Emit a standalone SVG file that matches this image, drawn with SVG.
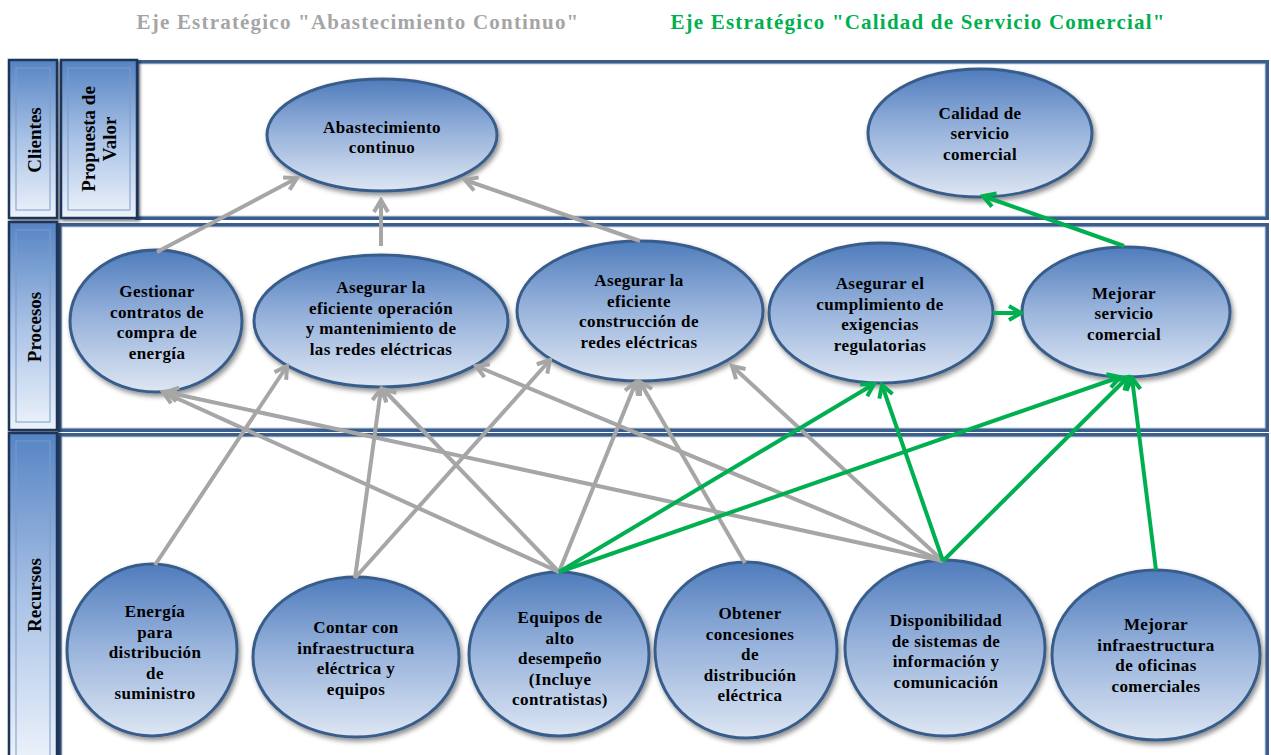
<svg xmlns="http://www.w3.org/2000/svg" width="1271" height="755" viewBox="0 0 1271 755">
  <defs>
    <linearGradient id="gNode" x1="0" y1="0" x2="0" y2="1">
      <stop offset="0" stop-color="#4f7cbc"/>
      <stop offset="0.45" stop-color="#94b0da"/>
      <stop offset="1" stop-color="#dde6f3"/>
    </linearGradient>
    <linearGradient id="gLabel" x1="0" y1="0" x2="0" y2="1">
      <stop offset="0" stop-color="#5584c4"/>
      <stop offset="0.5" stop-color="#a9c2e6"/>
      <stop offset="1" stop-color="#edf3fb"/>
    </linearGradient>
    <filter id="shadow" x="-10%" y="-10%" width="125%" height="130%">
      <feDropShadow dx="2" dy="3" stdDeviation="2.5" flood-color="#000" flood-opacity="0.45"/>
    </filter>
    <filter id="labelShadow" x="-10%" y="-5%" width="130%" height="112%">
      <feDropShadow dx="2" dy="2" stdDeviation="1.5" flood-color="#000" flood-opacity="0.5"/>
    </filter>
    <marker id="arrGray" viewBox="0 0 18 18" refX="15" refY="9" markerWidth="18" markerHeight="18" markerUnits="userSpaceOnUse" orient="auto">
      <path d="M3,2 L15,9 L3,16" fill="none" stroke="#a6a6a6" stroke-width="4" stroke-linejoin="miter"/>
    </marker>
    <marker id="arrGreen" viewBox="0 0 18 18" refX="15" refY="9" markerWidth="18" markerHeight="18" markerUnits="userSpaceOnUse" orient="auto">
      <path d="M3,2 L15,9 L3,16" fill="none" stroke="#00b050" stroke-width="4" stroke-linejoin="miter"/>
    </marker>
    <style>
      .title { font-family: "Liberation Serif", "Times New Roman", serif; font-weight: bold; font-size: 21px; letter-spacing: 1.2px; text-anchor: middle; }
      .frame { fill: #ffffff; stroke: #3b5d8b; stroke-width: 4; }
      .frameIn { fill: none; stroke: #c3d1e5; stroke-width: 1; }
      .lbl { fill: url(#gLabel); stroke: #1f3658; stroke-width: 2.5; filter: url(#labelShadow); }
      .lblIn { fill: none; stroke: #7d9bc8; stroke-width: 1; }
      .lblText { font-family: "Liberation Serif", "Times New Roman", serif; font-weight: bold; font-size: 19px; fill: #000; text-anchor: middle; dominant-baseline: central; }
      .node ellipse { fill: url(#gNode); stroke: #385d8a; stroke-width: 3; filter: url(#shadow); }
      .node text { font-family: "Liberation Serif", "Times New Roman", serif; font-weight: bold; font-size: 17px; letter-spacing: 0.4px; fill: #000; text-anchor: middle; }
      .gray { stroke: #a6a6a6; stroke-width: 4; fill: none; marker-end: url(#arrGray); }
      .green { stroke: #00b050; stroke-width: 4; fill: none; marker-end: url(#arrGreen); }
    </style>
  </defs>

  <rect width="1271" height="755" fill="#ffffff"/>

  <!-- strategic axis headings -->
  <text class="title" x="358" y="29" fill="#a5a5a5">Eje Estratégico "Abastecimiento Continuo"</text>
  <text class="title" x="918" y="29" fill="#00b050">Eje Estratégico "Calidad de Servicio Comercial"</text>

  <!-- lane frames -->
  <g id="lanes">
    <rect class="frame" x="137" y="62" width="1130" height="156"/>
    <rect class="frameIn" x="139" y="64" width="1126" height="152"/>
    <rect class="frame" x="60" y="225" width="1207" height="205"/>
    <rect class="frameIn" x="62" y="227" width="1203" height="201"/>
    <rect class="frame" x="60" y="435" width="1207" height="330"/>
    <rect class="frameIn" x="62" y="437" width="1203" height="326"/>
  </g>

  <!-- lane headers -->
  <g id="lane-clientes">
    <rect class="lbl" x="9" y="60" width="48" height="158"/>
    <rect class="lblIn" x="16" y="68" width="34" height="142"/>
    <text class="lblText" transform="translate(34,140) rotate(-90)">Clientes</text>
  </g>
  <g id="lane-propuesta">
    <rect class="lbl" x="61" y="60" width="76" height="158"/>
    <rect class="lblIn" x="68" y="68" width="62" height="142"/>
    <text class="lblText" transform="translate(88,139) rotate(-90)">Propuesta de</text>
    <text class="lblText" transform="translate(109,139) rotate(-90)">Valor</text>
  </g>
  <g id="lane-procesos">
    <rect class="lbl" x="9" y="222" width="48" height="208"/>
    <rect class="lblIn" x="16" y="230" width="34" height="192"/>
    <text class="lblText" transform="translate(34,327) rotate(-90)">Procesos</text>
  </g>
  <g id="lane-recursos">
    <rect class="lbl" x="9" y="433" width="48" height="330"/>
    <rect class="lblIn" x="16" y="441" width="34" height="330"/>
    <text class="lblText" transform="translate(34,595) rotate(-90)">Recursos</text>
  </g>

  <!-- objectives -->
  <g id="abastecimiento" class="node">
    <ellipse cx="382" cy="135" rx="115" ry="56"/>
    <text x="382"><tspan x="382" y="133">Abastecimiento</tspan><tspan x="382" y="153">continuo</tspan></text>
  </g>
  <g id="calidad" class="node">
    <ellipse cx="980" cy="133" rx="112" ry="64"/>
    <text><tspan x="980" y="118.5">Calidad de</tspan><tspan x="980" y="139">servicio</tspan><tspan x="980" y="159.5">comercial</tspan></text>
  </g>
  <g id="gestionar" class="node">
    <ellipse cx="156" cy="321" rx="86" ry="71"/>
    <text><tspan x="157" y="297">Gestionar</tspan><tspan x="157" y="318">contratos de</tspan><tspan x="157" y="338">compra de</tspan><tspan x="157" y="359">energía</tspan></text>
  </g>
  <g id="operacion" class="node">
    <ellipse cx="381" cy="321" rx="127" ry="66"/>
    <text><tspan x="381" y="293">Asegurar la</tspan><tspan x="381" y="314">eficiente operación</tspan><tspan x="381" y="334">y mantenimiento de</tspan><tspan x="381" y="355">las redes eléctricas</tspan></text>
  </g>
  <g id="construccion" class="node">
    <ellipse cx="640" cy="311" rx="123" ry="70"/>
    <text><tspan x="639" y="286">Asegurar la</tspan><tspan x="639" y="307">eficiente</tspan><tspan x="639" y="327">construcción de</tspan><tspan x="639" y="348">redes eléctricas</tspan></text>
  </g>
  <g id="cumplimiento" class="node">
    <ellipse cx="881" cy="313" rx="112" ry="70"/>
    <text><tspan x="880" y="289">Asegurar el</tspan><tspan x="880" y="310">cumplimiento de</tspan><tspan x="880" y="330">exigencias</tspan><tspan x="880" y="351">regulatorias</tspan></text>
  </g>
  <g id="servicio" class="node">
    <ellipse cx="1126" cy="312" rx="104" ry="65"/>
    <text><tspan x="1124" y="298.5">Mejorar</tspan><tspan x="1124" y="319">servicio</tspan><tspan x="1124" y="339.5">comercial</tspan></text>
  </g>
  <g id="energia" class="node">
    <ellipse cx="152" cy="650" rx="85" ry="86"/>
    <text><tspan x="155" y="617">Energía</tspan><tspan x="155" y="637.5">para</tspan><tspan x="155" y="658">distribución</tspan><tspan x="155" y="678.5">de</tspan><tspan x="155" y="699">suministro</tspan></text>
  </g>
  <g id="infraestructura" class="node">
    <ellipse cx="356" cy="657" rx="103" ry="80"/>
    <text><tspan x="356" y="633">Contar con</tspan><tspan x="356" y="654">infraestructura</tspan><tspan x="356" y="674">eléctrica y</tspan><tspan x="356" y="695">equipos</tspan></text>
  </g>
  <g id="equipos" class="node">
    <ellipse cx="559" cy="654" rx="90" ry="82"/>
    <text><tspan x="560" y="623">Equipos de</tspan><tspan x="560" y="643.5">alto</tspan><tspan x="560" y="664">desempeño</tspan><tspan x="560" y="684.5">(Incluye</tspan><tspan x="560" y="705">contratistas)</tspan></text>
  </g>
  <g id="concesiones" class="node">
    <ellipse cx="746" cy="650" rx="91" ry="88"/>
    <text><tspan x="750" y="619">Obtener</tspan><tspan x="750" y="639.5">concesiones</tspan><tspan x="750" y="660">de</tspan><tspan x="750" y="680.5">distribución</tspan><tspan x="750" y="701">eléctrica</tspan></text>
  </g>
  <g id="sistemas" class="node">
    <ellipse cx="945" cy="648" rx="100" ry="88"/>
    <text><tspan x="946" y="626">Disponibilidad</tspan><tspan x="946" y="647">de sistemas de</tspan><tspan x="946" y="667">información y</tspan><tspan x="946" y="688">comunicación</tspan></text>
  </g>
  <g id="oficinas" class="node">
    <ellipse cx="1156" cy="655" rx="104" ry="85"/>
    <text><tspan x="1156" y="630">Mejorar</tspan><tspan x="1156" y="651">infraestructura</tspan><tspan x="1156" y="671">de oficinas</tspan><tspan x="1156" y="692">comerciales</tspan></text>
  </g>

  <!-- cause-effect links -->
  <g id="connectors">
    <line class="gray" x1="157" y1="252" x2="297" y2="178"/>
    <line class="gray" x1="381" y1="246" x2="381" y2="200"/>
    <line class="gray" x1="640" y1="241" x2="465" y2="180"/>
    <line class="gray" x1="155" y1="565" x2="287" y2="366"/>
    <line class="gray" x1="355" y1="578" x2="381" y2="389"/>
    <line class="gray" x1="355" y1="578" x2="550" y2="360"/>
    <line class="gray" x1="559" y1="572" x2="163" y2="392"/>
    <line class="gray" x1="559" y1="572" x2="383" y2="389"/>
    <line class="gray" x1="559" y1="572" x2="636" y2="382"/>
    <line class="gray" x1="745" y1="563" x2="640" y2="382"/>
    <line class="gray" x1="943" y1="561" x2="166" y2="392"/>
    <line class="gray" x1="943" y1="561" x2="476" y2="366"/>
    <line class="gray" x1="943" y1="561" x2="732" y2="366"/>
    <line class="green" x1="1124" y1="246" x2="983" y2="196"/>
    <line class="green" x1="993" y1="313" x2="1021" y2="313"/>
    <line class="green" x1="559" y1="572" x2="874" y2="384"/>
    <line class="green" x1="559" y1="572" x2="1120" y2="377"/>
    <line class="green" x1="943" y1="561" x2="882" y2="385"/>
    <line class="green" x1="943" y1="561" x2="1128" y2="377"/>
    <line class="green" x1="1156" y1="570" x2="1132" y2="378"/>
  </g>
</svg>
